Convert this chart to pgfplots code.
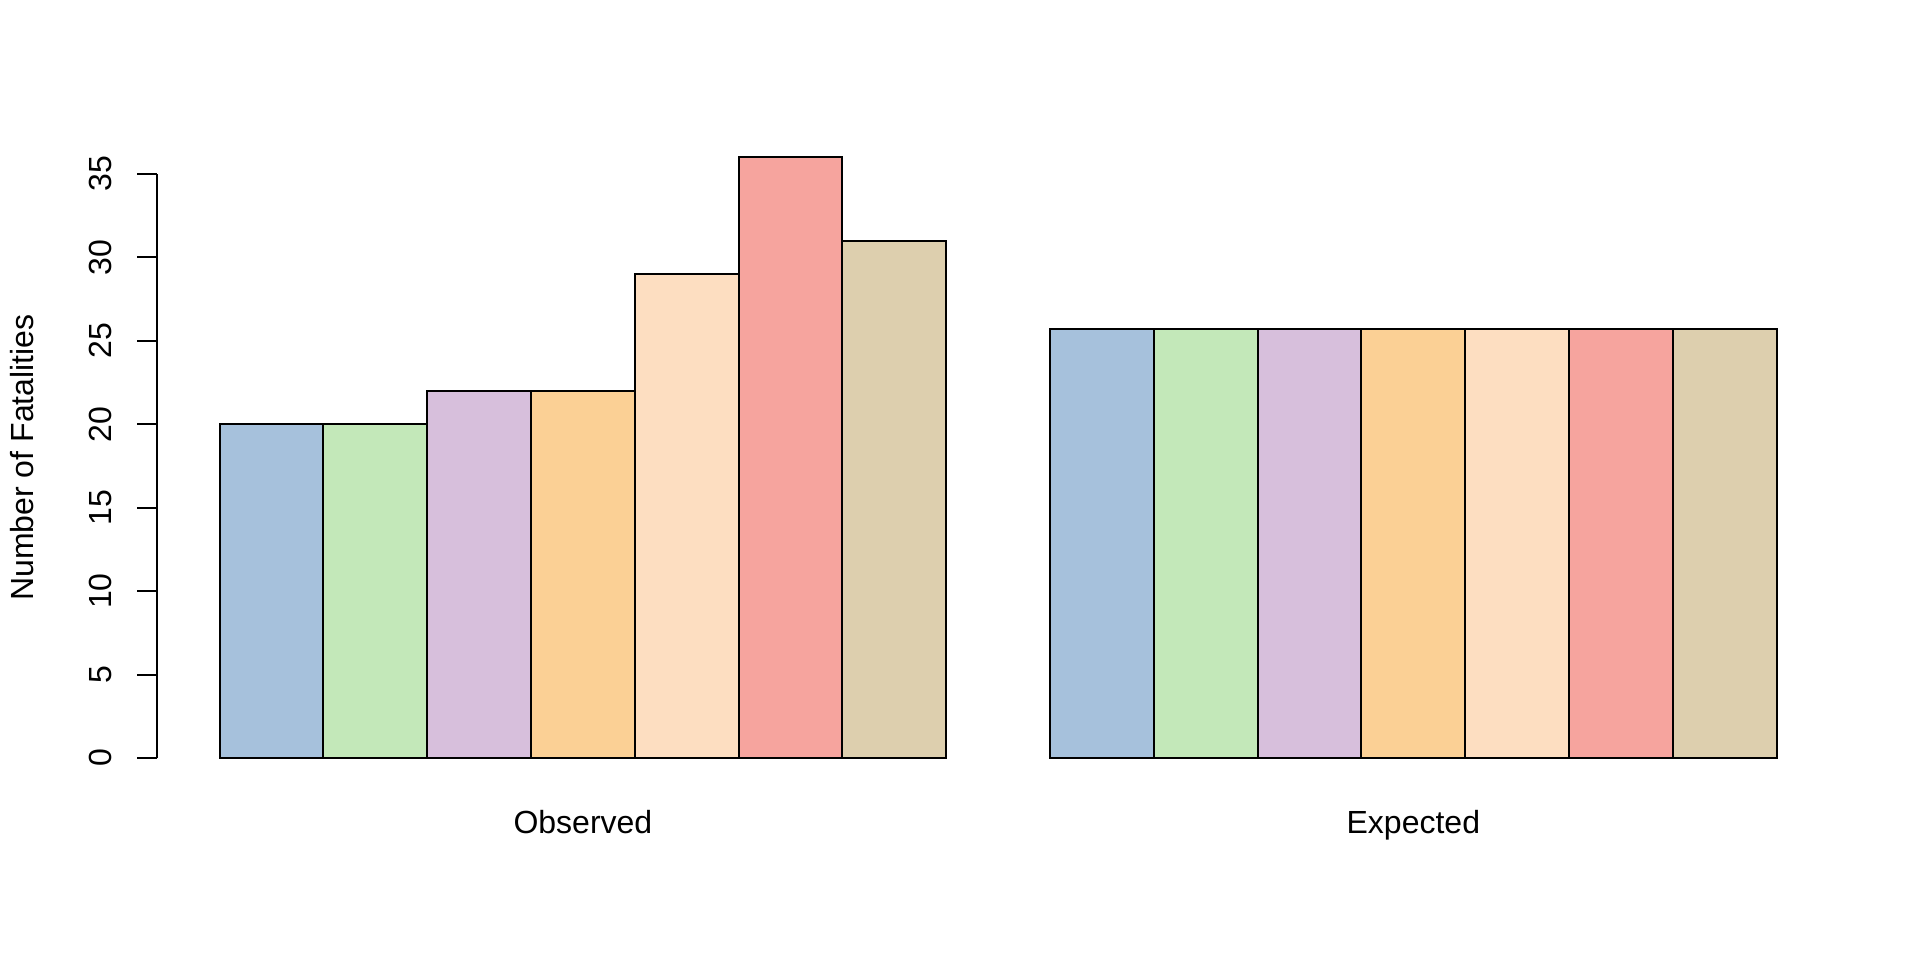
\documentclass[border=0pt]{standalone}
\usepackage{pgfplots}
\pgfplotsset{compat=1.18}
\usepackage{fontspec}
\setmainfont{Liberation Sans}
\definecolor{c1}{HTML}{A6C1DC}
\definecolor{c2}{HTML}{C3E8B9}
\definecolor{c3}{HTML}{D7BFDC}
\definecolor{c4}{HTML}{FBD095}
\definecolor{c5}{HTML}{FDDEC1}
\definecolor{c6}{HTML}{F6A49E}
\definecolor{c7}{HTML}{DDCFAE}
\begin{document}
\fontsize{12}{14.4}\selectfont
\begin{tikzpicture}
\useasboundingbox (-59pt,-66.75pt) rectangle (661pt,293.25pt);
\begin{axis}[
  at={(0,0)}, anchor=south west,
  scale only axis, width=630.6pt, height=243.3pt,
  xmin=0.4, xmax=16.6, ymin=-1.44, ymax=37.44,
  hide axis, clip=false,
  every axis plot/.append style={ybar, bar width=1, bar shift=0pt, draw=black, line width=0.75pt},
]
\addplot[fill=c1] coordinates {(1.5,20) (9.5,25.714)};
\addplot[fill=c2] coordinates {(2.5,20) (10.5,25.714)};
\addplot[fill=c3] coordinates {(3.5,22) (11.5,25.714)};
\addplot[fill=c4] coordinates {(4.5,22) (12.5,25.714)};
\addplot[fill=c5] coordinates {(5.5,29) (13.5,25.714)};
\addplot[fill=c6] coordinates {(6.5,36) (14.5,25.714)};
\addplot[fill=c7] coordinates {(7.5,31) (15.5,25.714)};
\draw[line width=0.75pt] (axis cs:0.4,0) -- (axis cs:0.4,35);
\pgfplotsinvokeforeach{0,5,10,15,20,25,30,35}{
  \draw[line width=0.75pt] (axis cs:0.4,#1) -- ([xshift=-7.5pt]axis cs:0.4,#1);
  \node[rotate=90, anchor=base, inner sep=0pt] at ([xshift=-17.1pt]axis cs:0.4,#1) {#1};
}
\node[rotate=90, anchor=base, inner sep=0pt] at ([xshift=-46.5pt]axis description cs:0,0.5) {Number of Fatalities};
\node[anchor=base, inner sep=0pt] at ([yshift=-19.2pt]axis cs:4.5,-1.44) {Observed};
\node[anchor=base, inner sep=0pt] at ([yshift=-19.2pt]axis cs:12.5,-1.44) {Expected};
\end{axis}
\end{tikzpicture}
\end{document}
